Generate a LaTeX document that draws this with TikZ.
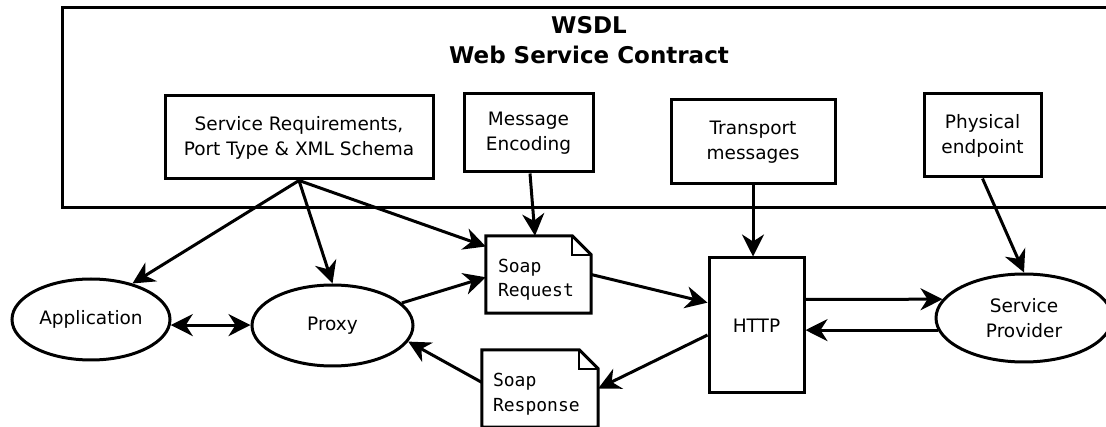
\documentclass[tikz,border=0pt]{standalone}
\usepackage{fontspec}
\setmainfont{DejaVu Sans}
\setmonofont{DejaVu Sans Mono}
\usetikzlibrary{arrows.meta,shapes.geometric,calc}
\begin{document}
\begin{tikzpicture}[x=1pt,y=-1pt,
  every node/.style={font=\fontsize{18.5}{25}\selectfont},
  box/.style={draw,line width=3pt,inner sep=0pt,align=center},
  oval/.style={draw,ellipse,line width=3pt,inner sep=0pt,align=center},
  docbox/.style={inner sep=0pt},
  tip/.tip={Stealth[length=22pt,width=22pt,inset=7pt]},
  arr/.style={line width=3pt,-tip},
  darr/.style={line width=3pt,tip-tip},
  mono/.style={font=\fontsize{18}{24}\selectfont\ttfamily,inner sep=0pt,anchor=base west},
  docline/.style={line width=3pt},
  foldline/.style={line width=1.5pt},
]
\clip (0,0) rectangle (1106,427);
\fill[white] (0,0) rectangle (1106,427);

% WSDL contract frame
\node[box, minimum width=1058pt, minimum height=200pt] (wsdl) at (591,108) {};
\node[font=\fontsize{23}{30}\selectfont\bfseries, align=center, anchor=north, inner sep=0pt] (title) at (589,16.5) {WSDL\\Web Service Contract};

% boxes in the contract
\node[box, minimum width=268pt, minimum height=83pt] (sr) at (299,137.5) {Service Requirements,\\Port Type \& XML Schema};
\node[box, minimum width=129pt, minimum height=78pt] (me) at (528.5,133) {Message\\Encoding};
\node[box, minimum width=164pt, minimum height=84pt] (tm) at (753,142) {Transport\\messages};
\node[box, minimum width=117pt, minimum height=83pt] (pe) at (982.5,135.5) {Physical\\endpoint};

% lower row
\node[box, minimum width=95pt, minimum height=135pt] (http) at (756.5,325.5) {HTTP};
\node[oval, minimum width=158pt, minimum height=81pt] (app) at (91,319.5) {Application};
\node[oval, minimum width=161pt, minimum height=81pt] (proxy) at (332.5,325.5) {Proxy};
\node[oval, minimum width=176pt, minimum height=88pt] (sp) at (1024,318) {Service\\Provider};

% documents
\node[docbox, minimum width=105pt, minimum height=77pt] (sreq) at (538.5,274.5) {};
\draw[docline] (sreq.north west) -- ($(sreq.north east)+(-19,0)$) -- ($(sreq.north east)+(0,19)$) -- (sreq.south east) -- (sreq.south west) -- cycle;
\draw[foldline] ($(sreq.north east)+(-19,0)$) |- ($(sreq.north east)+(0,19)$);
\node[mono] (sreqa) at ($(sreq.north west)+(12,37)$) {Soap};
\node[mono] (sreqb) at ($(sreq.north west)+(12,61)$) {Request};

\node[docbox, minimum width=116pt, minimum height=77pt] (sresp) at (540,388.5) {};
\draw[docline] (sresp.north west) -- ($(sresp.north east)+(-19,0)$) -- ($(sresp.north east)+(0,19)$) -- (sresp.south east) -- (sresp.south west) -- cycle;
\draw[foldline] ($(sresp.north east)+(-19,0)$) |- ($(sresp.north east)+(0,19)$);
\node[mono] (sresa) at ($(sresp.north west)+(11,37)$) {Soap};
\node[mono] (sresb) at ($(sresp.north west)+(11,62)$) {Response};

% connectors
\draw[arr] (sr.south) -- (app.41);
\draw[arr] (sr.south) -- (proxy.north);
\draw[arr] (sr.south) -- (sreq.152);
\draw[arr] ($(me.south)+(1.5,0)$) -- ($(sreq.north)+(-3.5,0)$);
\draw[arr] (tm.south) -- (tm.south |- http.north);
\draw[arr] (pe.south) -- (sp.north);
\draw[darr] (app.-4) -- (app.-4 -| proxy.west);
\draw[arr] (proxy.18) -- (sreq.183);
\draw[arr] (sreq.east) -- (http.155);
\draw[arr] (http.191) -- (sresp.east);
\draw[arr] (sresp.174) -- (proxy.-12);
\draw[arr] (http.28) -- (sp.167);
\draw[arr] (sp.188) -- (sp.188 -| http.east);
\end{tikzpicture}
\end{document}
